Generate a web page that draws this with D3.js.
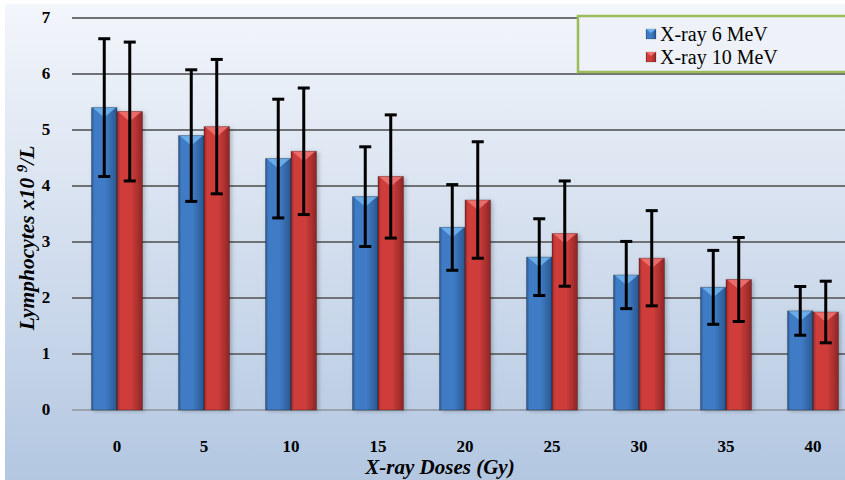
<!DOCTYPE html>
<html><head><meta charset="utf-8">
<script src="https://cdn.jsdelivr.net/npm/d3@7"></script>
<style>body{margin:0;background:#fff}svg{display:block}text{font-family:"Liberation Serif","Times New Roman",Times,serif}</style>
</head><body>
<script>
const categories = ["0","5","10","15","20","25","30","35","40"];
const seriesNames = ["X-ray 6 MeV","X-ray 10 MeV"];
const mean6 = [5.40,4.90,4.49,3.81,3.26,2.73,2.41,2.19,1.77];
const sd6   = [1.23,1.175,1.06,0.89,0.765,0.685,0.60,0.66,0.435];
const mean10 = [5.33,5.06,4.62,4.17,3.75,3.15,2.71,2.33,1.75];
const sd10   = [1.24,1.20,1.13,1.10,1.04,0.94,0.85,0.75,0.55];
const yTicks = [0,1,2,3,4,5,6,7];

const W=845,H=480;
const svg=d3.select("body").append("svg").attr("width",W).attr("height",H);
const defs=svg.append("defs");
const bg=defs.append("linearGradient").attr("id","bg").attr("x1",0).attr("y1",0).attr("x2",0).attr("y2",1);
bg.append("stop").attr("offset","0%").attr("stop-color","#f3f6fb");
bg.append("stop").attr("offset","100%").attr("stop-color","#b3c7e1");
function barGrad(id,edge,mid){
  const g=defs.append("linearGradient").attr("id",id).attr("x1",0).attr("y1",0).attr("x2",1).attr("y2",0);
  g.append("stop").attr("offset","0%").attr("stop-color",edge);
  g.append("stop").attr("offset","12%").attr("stop-color",mid);
  g.append("stop").attr("offset","55%").attr("stop-color",mid);
  g.append("stop").attr("offset","100%").attr("stop-color",edge);
}
barGrad("gb","#2b578f","#3f7cc6");
barGrad("gr","#8f2626","#cf3d3b");
const sh=defs.append("filter").attr("id","sh").attr("x","-20%").attr("y","-5%").attr("width","150%").attr("height","115%");
sh.append("feDropShadow").attr("dx",2).attr("dy",1).attr("stdDeviation",2).attr("flood-color","#000").attr("flood-opacity",0.25);

svg.append("rect").attr("x",5).attr("y",4).attr("width",W-5).attr("height",H-4).attr("fill","url(#bg)");

const y=d3.scaleLinear().domain([0,7]).range([410,18]);
const x=d3.scaleBand().domain(categories).range([73.5,856.5]).paddingInner(0.414).paddingOuter(0.207);
const xs=d3.scaleBand().domain(seriesNames).range([0,x.bandwidth()]);

svg.append("g").selectAll("line").data(yTicks).join("line")
  .attr("x1",72).attr("x2",W).attr("y1",d=>y(d)).attr("y2",d=>y(d))
  .attr("stroke",d=>d===0?"#9aa3ad":"#6f7275").attr("stroke-width",2);

svg.append("g").selectAll("text").data(yTicks).join("text")
  .attr("x",46).attr("y",d=>y(d)+5).attr("text-anchor","middle")
  .attr("font-weight","bold").attr("font-size",17)
  .text(d=>d);

const data=[{name:seriesNames[0],mean:mean6,sd:sd6,fill:"url(#gb)",top:"#6fb2ee"},
            {name:seriesNames[1],mean:mean10,sd:sd10,fill:"url(#gr)",top:"#ee7170"}];

const bars=svg.append("g");
data.forEach(s=>{
  categories.forEach((c,i)=>{
    const bx=x(c)+xs(s.name), bw=xs.bandwidth(), ty=y(s.mean[i]), by=y(0);
    bars.append("rect").attr("x",bx).attr("y",ty).attr("width",bw).attr("height",by-ty)
      .attr("fill",s.fill).attr("filter","url(#sh)");
    bars.append("path").attr("d",`M${bx+1},${ty}L${bx+bw-1},${ty}L${bx+bw/2},${ty+10}Z`)
      .attr("fill",s.top).attr("opacity",0.9);
    bars.append("rect").attr("x",bx).attr("y",ty).attr("width",bw).attr("height",by-ty)
      .attr("fill","none").attr("stroke","rgba(0,0,0,0.25)").attr("stroke-width",1);
  });
});
const eb=svg.append("g").attr("stroke","#000").attr("stroke-width",3);
data.forEach(s=>{
  categories.forEach((c,i)=>{
    const cx=x(c)+xs(s.name)+xs.bandwidth()/2;
    const hi=y(s.mean[i]+s.sd[i]), lo=y(s.mean[i]-s.sd[i]);
    eb.append("line").attr("x1",cx).attr("x2",cx).attr("y1",hi).attr("y2",lo);
    eb.append("line").attr("x1",cx-6).attr("x2",cx+6).attr("y1",hi).attr("y2",hi);
    eb.append("line").attr("x1",cx-6).attr("x2",cx+6).attr("y1",lo).attr("y2",lo);
  });
});

svg.append("g").selectAll("text").data(categories).join("text")
  .attr("x",d=>x(d)+x.bandwidth()/2).attr("y",452).attr("text-anchor","middle")
  .attr("font-weight","bold").attr("font-size",17)
  .text(d=>d);

svg.append("text").attr("x",440).attr("y",474).attr("text-anchor","middle")
  .attr("font-weight","bold").attr("font-style","italic").attr("font-size",21)
  .text("X-ray Doses (Gy)");
const yt=svg.append("text").attr("transform","translate(34,238) rotate(-90)").attr("text-anchor","middle")
  .attr("font-weight","bold").attr("font-style","italic").attr("font-size",21.5);
yt.append("tspan").text("Lymphocytes x10 ");
yt.append("tspan").attr("font-size",15).attr("dy",-7).text("9");
yt.append("tspan").attr("dy",7).text("/L");

const lg=svg.append("g");
lg.append("rect").attr("x",578).attr("y",16).attr("width",280).attr("height",56)
  .attr("fill","#eef2f8").attr("stroke","#9bbb59").attr("stroke-width",2.5);
data.forEach((s,i)=>{
  const ly=29+i*23;
  lg.append("rect").attr("x",646).attr("y",ly).attr("width",10).attr("height",10).attr("fill",s.fill)
    .attr("stroke","rgba(0,0,0,0.3)").attr("stroke-width",0.5);
  lg.append("path").attr("d",`M646,${ly}L656,${ly}L651,${ly+4}Z`).attr("fill",s.top);
  lg.append("text").attr("x",660).attr("y",ly+12).attr("font-size",20)
    .text(s.name);
});
</script>
</body></html>
